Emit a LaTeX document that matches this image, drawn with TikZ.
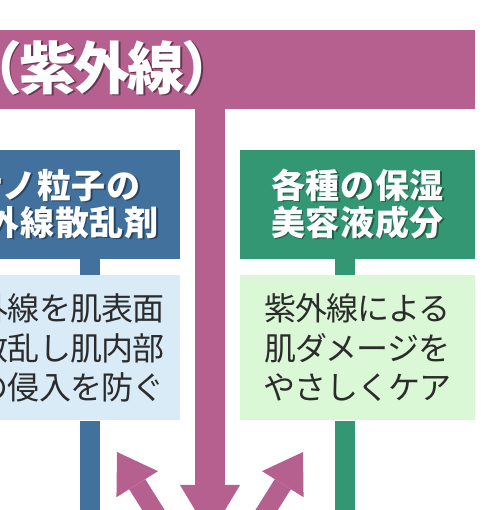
\documentclass[tikz,border=0pt]{standalone}
\usepackage{fontspec}
\setmainfont{Noto Sans CJK JP}
\usetikzlibrary{arrows.meta,positioning}
\definecolor{uvmagenta}{RGB}{182,96,143}
\definecolor{nanoblue}{RGB}{65,113,156}
\definecolor{caregreen}{RGB}{52,151,116}
\definecolor{nanolight}{RGB}{218,235,248}
\definecolor{carelight}{RGB}{218,247,214}
\definecolor{bodyink}{RGB}{43,43,43}
\newcommand{\castshade}[2]{\leavevmode\rlap{\kern1.6pt\raisebox{-1.6pt}{\textcolor{#1}{#2}}}#2}

\begin{document}
\begin{tikzpicture}[x=1pt,y=1pt,
    headbox/.style={minimum width=235pt,minimum height=109pt,inner sep=0pt,text=white,align=center,
      font=\fontsize{34}{37}\selectfont\bfseries\addfontfeature{LetterSpace=2}},
    bodybox/.style={minimum width=235pt,minimum height=145pt,inner sep=0pt,text=bodyink,align=center,
      font=\fontsize{32}{39.5}\selectfont\addfontfeature{LetterSpace=-3}},
    stemline/.style={line width=20pt},
    uvarrow/.style={uvmagenta,line width=30pt,-{Triangle[width=60pt,length=50pt,line width=0pt]}},
    spreadarrow/.style={uvmagenta,line width=19pt,-{Triangle[width=49pt,length=38pt,line width=0pt]}}]
  \useasboundingbox (0,0) rectangle (485,510);
  \clip (0,0) rectangle (485,510);
  \node[fill=uvmagenta,minimum width=775pt,minimum height=79pt,inner sep=0pt,anchor=north east] (banner) at (475,480) {};
  \node[anchor=west,inner sep=0pt,text=white,font=\fontsize{57}{60}\selectfont\bfseries\addfontfeature{LetterSpace=-5}] (title) at (-35,441.5)
    {\castshade{uvmagenta!55!black}{（紫外線）}};
  \node[headbox,fill=nanoblue,minimum width=250pt] (nanohead) at (55,305.5)
    {\castshade{nanoblue!60!black}{ナノ粒子の}\\\castshade{nanoblue!60!black}{紫外線散乱剤}};
  \node[headbox,fill=caregreen] (carehead) at (357.5,305.5)
    {\castshade{caregreen!60!black}{各種の保湿}\\\castshade{caregreen!60!black}{美容液成分}};
  \node[bodybox,fill=nanolight,minimum width=250pt,below=16pt of nanohead] (nanobody) {紫外線を肌表面\\で散乱し肌内部\\への侵入を防ぐ};
  \node[bodybox,fill=carelight,below=16pt of carehead] (carebody) {紫外線による\\肌ダメージを\\やさしくケア};
  \coordinate (nanofoot) at (90,-5);
  \coordinate (carefoot) at (345,-5);
  \coordinate (uvtip) at (210,-25);
  \coordinate (lefttip) at (117,58);
  \coordinate (leftroot) at (181,-44);
  \coordinate (righttip) at (303,58);
  \coordinate (rightroot) at (239,-44);
  \draw[stemline,nanoblue] ([xshift=35pt]nanohead.south) -- ([xshift=35pt]nanobody.north);
  \draw[stemline,nanoblue] ([xshift=35pt]nanobody.south) -- (nanofoot);
  \draw[stemline,caregreen] ([xshift=-12.5pt]carehead.south) -- ([xshift=-12.5pt]carebody.north);
  \draw[stemline,caregreen] ([xshift=-12.5pt]carebody.south) -- (carefoot);
  \draw[uvarrow] (banner.south -| uvtip) -- (uvtip);
  \draw[spreadarrow] (leftroot) -- (lefttip);
  \draw[spreadarrow] (rightroot) -- (righttip);
\end{tikzpicture}
\end{document}
